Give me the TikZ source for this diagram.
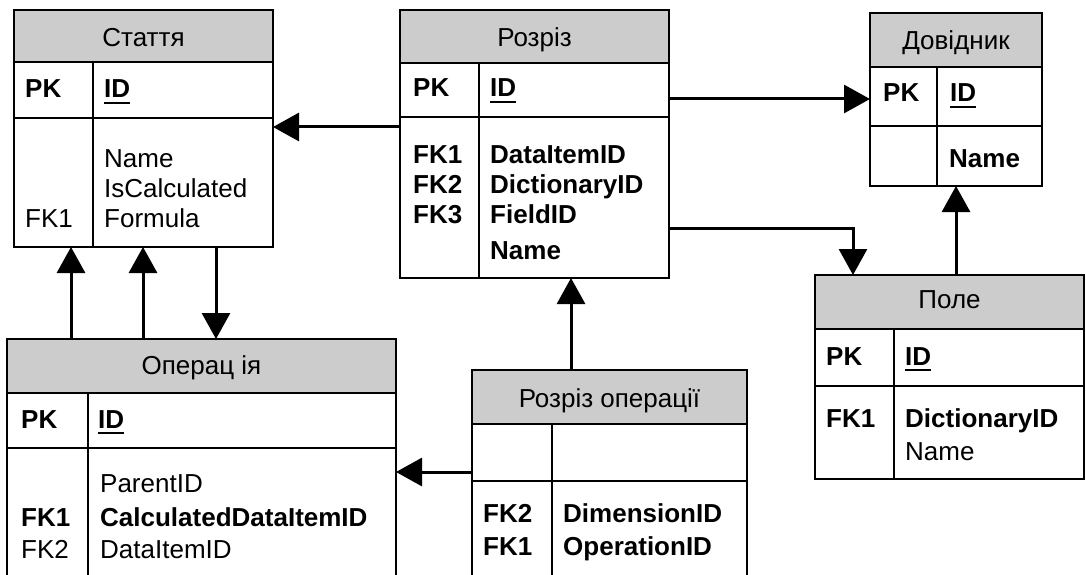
\documentclass[tikz,border=0pt]{standalone}
\usepackage{fontspec}
\setmainfont{Liberation Sans}
\usetikzlibrary{arrows.meta}
\definecolor{hdrgray}{RGB}{204,204,204}
\newcommand\fs{\fontsize{26}{31}\selectfont}

% one ER table: #1 name, #2 left, #3 top, #4 right, #5 header bottom,
% #6 key-row bottom, #7 bottom, #8 column divider
\newcommand\ertab[8]{%
  \node[tbl, minimum width={(#4-#2)*1pt}, minimum height={(#7-#3)*1pt}]
    (#1) at ({(#2+#4)/2},{(#3+#7)/2}) {};
  \node[hdr, minimum width={(#4-#2)*1pt}, minimum height={(#5-#3)*1pt}]
    (#1-h) at ({(#2+#4)/2},{(#3+#5)/2}) {};
  \draw[grid] (#2,#6) -- (#4,#6) (#8,#5) -- (#8,#7);
}
% underlined bold primary key field: #1 node name, #2 x, #3 baseline y
\newcommand\idkey[3]{%
  \node[txt, font=\fs\bfseries] (#1) at (#2,#3) {ID};
  \draw[uline] ([yshift=-5pt]#1.base west) -- ([yshift=-5pt]#1.base east);
}

\tikzset{
  tbl/.style={draw, line width=2pt, fill=white, inner sep=0pt, outer sep=0pt},
  hdr/.style={draw, line width=2pt, fill=hdrgray, inner sep=0pt, outer sep=0pt},
  grid/.style={line width=2pt},
  uline/.style={line width=2pt},
  txt/.style={inner sep=0pt, anchor=base west, font=\fs},
  bftxt/.style={txt, font=\fs\bfseries},
  ttl/.style={inner sep=0pt, anchor=base, font=\fs},
  rel/.style={line width=3pt, -{Triangle[length=26pt,width=28pt]}}
}

\begin{document}
\begin{tikzpicture}[x=1pt,y=-1pt]
\path[use as bounding box] (0,0) rectangle (1086,575);
\clip (0,0) rectangle (1086,575);

% ---- Стаття ----
\ertab{st}{14}{10}{273}{62}{118}{247}{93}
\node[ttl] (st-t) at (143.5,47) {Стаття};
\node[bftxt] (st-pk) at (25,98) {PK};
\idkey{st-id}{104}{98}
\node[txt] (st-f1) at (104,167) {Name};
\node[txt] (st-f2) at (104,197) {IsCalculated};
\node[txt] (st-f3) at (104,227) {Formula};
\node[txt] (st-k3) at (25,227) {FK1};

% ---- Розріз ----
\ertab{rz}{400}{10}{669}{63}{117}{278}{479}
\node[ttl] (rz-t) at (534.5,47) {Розріз};
\node[bftxt] (rz-pk) at (413,97) {PK};
\idkey{rz-id}{490}{97}
\node[bftxt] (rz-k1) at (413,163) {FK1};
\node[bftxt] (rz-f1) at (490,163) {DataItemID};
\node[bftxt] (rz-k2) at (413,193) {FK2};
\node[bftxt] (rz-f2) at (490,193) {DictionaryID};
\node[bftxt] (rz-k3) at (413,223) {FK3};
\node[bftxt] (rz-f3) at (490,223) {FieldID};
\node[bftxt] (rz-f4) at (490,259) {Name};

% ---- Довідник ----
\ertab{dv}{870}{13}{1042}{67}{126}{186}{937}
\node[ttl] (dv-t) at (956,50) {Довідник};
\node[bftxt] (dv-pk) at (883,102) {PK};
\idkey{dv-id}{950}{102}
\node[bftxt] (dv-f1) at (949,167) {Name};

% ---- Поле ----
\ertab{pl}{815}{275}{1084}{329}{386}{479}{894}
\node[ttl] (pl-t) at (949.5,308) {Поле};
\node[bftxt] (pl-pk) at (826,365) {PK};
\idkey{pl-id}{905}{365}
\node[bftxt] (pl-k1) at (826,427) {FK1};
\node[bftxt] (pl-f1) at (905,427) {DictionaryID};
\node[txt] (pl-f2) at (905,460) {Name};

% ---- Операція ----
\ertab{op}{7}{339}{396}{393}{448}{600}{88}
\node[ttl] (op-t) at (201.5,374) {Операц ія};
\node[bftxt] (op-pk) at (21,428) {PK};
\idkey{op-id}{98}{428}
\node[txt] (op-f1) at (100,492) {ParentID};
\node[bftxt] (op-k2) at (21,526) {FK1};
\node[bftxt] (op-f2) at (100,526) {CalculatedDataItemID};
\node[txt] (op-k3) at (21,558) {FK2};
\node[txt] (op-f3) at (100,558) {DataItemID};

% ---- Розріз операції ----
\ertab{ro}{472}{370}{747}{424}{481}{600}{552}
\node[ttl] (ro-t) at (609.5,407) {Розріз операції};
\node[bftxt] (ro-k1) at (483,522) {FK2};
\node[bftxt] (ro-f1) at (563,522) {DimensionID};
\node[bftxt] (ro-k2) at (483,555) {FK1};
\node[bftxt] (ro-f2) at (563,555) {OperationID};

% ---- relationships ----
\coordinate (rz-o1) at ([yshift=-117pt]rz.north west);
\coordinate (rz-o2) at ([yshift=-89pt]rz.north east);
\coordinate (rz-o3) at ([yshift=-218pt]rz.north east);
\coordinate (pl-i1) at ([xshift=38pt]pl.north west);
\coordinate (pl-o1) at ([xshift=141pt]pl.north west);
\coordinate (op-o1) at ([xshift=64pt]op.north west);
\coordinate (op-o2) at ([xshift=136pt]op.north west);
\coordinate (st-o1) at ([xshift=202pt]st.south west);
\coordinate (ro-o1) at ([yshift=-102pt]ro.north west);
\coordinate (ro-o2) at ([xshift=99pt]ro.north west);

\draw[rel] (rz-o1) -- (rz-o1 -| st.east);
\draw[rel] (rz-o2) -- (rz-o2 -| dv.west);
\draw[rel] (rz-o3) -| (pl-i1);
\draw[rel] (pl-o1) -- (pl-o1 |- dv.south);
\draw[rel] (op-o1) -- (op-o1 |- st.south);
\draw[rel] (op-o2) -- (op-o2 |- st.south);
\draw[rel] (st-o1) -- (st-o1 |- op.north);
\draw[rel] (ro-o1) -- (ro-o1 -| op.east);
\draw[rel] (ro-o2) -- (ro-o2 |- rz.south);
\end{tikzpicture}
\end{document}
